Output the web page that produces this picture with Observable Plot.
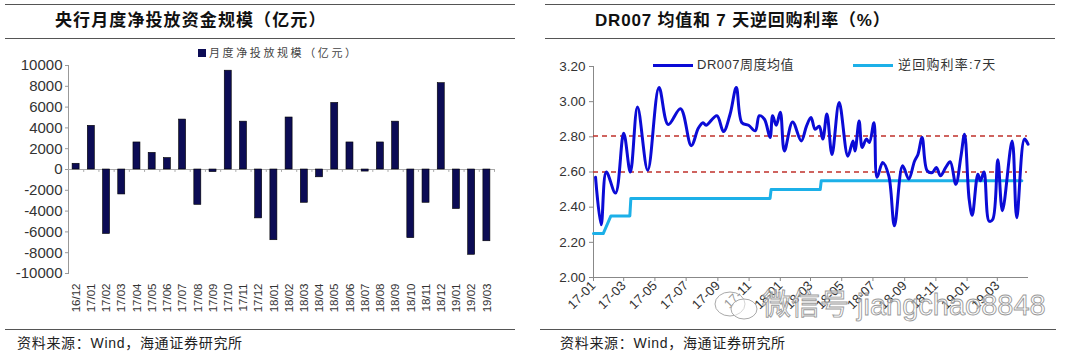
<!DOCTYPE html>
<html><head><meta charset="utf-8">
<script src="https://cdn.jsdelivr.net/npm/d3@7"></script>
<script src="https://cdn.jsdelivr.net/npm/@observablehq/plot@0.6"></script>
<style>
body{margin:0;background:#fff;font-family:"Liberation Sans",Arial,"Noto Sans CJK SC",sans-serif;}
#wrap{position:relative;width:1080px;height:358px;overflow:hidden;background:#fff;}
.hline{position:absolute;height:0;border-top:1.3px solid #555;}
.title{position:absolute;font-family:"Liberation Sans","Noto Sans CJK SC",sans-serif;font-weight:bold;font-size:17px;color:#111;line-height:20px;white-space:nowrap;}
.src{position:absolute;font-family:"Liberation Sans","Noto Sans CJK SC",sans-serif;font-size:14px;color:#222;line-height:16px;white-space:nowrap;letter-spacing:0.7px;}
.chart{position:absolute;top:50px;}
.leg{position:absolute;font-family:"Liberation Sans","Noto Sans CJK SC",sans-serif;white-space:nowrap;color:#444;}
.wm{position:absolute;left:762px;top:288px;font-family:"Liberation Sans","Noto Sans CJK SC",sans-serif;font-size:29px;color:rgba(255,255,255,0.55);-webkit-text-stroke:0.9px #9a9a9a;white-space:nowrap;line-height:34px;}
</style></head>
<body><div id="wrap">
<div class="hline" style="left:5px;width:510px;top:4px"></div>
<div class="hline" style="left:5px;width:510px;top:38px"></div>
<div class="hline" style="left:545px;width:510px;top:4px"></div>
<div class="hline" style="left:545px;width:510px;top:38px"></div>
<div class="title" style="left:55px;top:11px;letter-spacing:1.1px">央行月度净投放资金规模（亿元）</div>
<div class="title" style="left:595px;top:11px;letter-spacing:0.8px">DR007 均值和 7 天逆回购利率（%）</div>
<div id="left" class="chart" style="left:0px;width:540px"></div>
<div id="right" class="chart" style="left:540px;width:540px"></div>
<div class="leg" style="left:198px;top:47px;font-size:11px;letter-spacing:2.6px;line-height:12px"><span style="display:inline-block;width:8px;height:8px;background:#0c0c55;margin-right:3px;vertical-align:0px"></span>月度净投放规模（亿元）</div>
<div style="position:absolute;left:653px;top:64px;width:40px;height:3px;background:#0b0bd6"></div>
<div class="leg" style="left:697px;top:57px;font-size:13px;line-height:16px;color:#333;letter-spacing:0.5px">DR007周度均值</div>
<div style="position:absolute;left:853px;top:64px;width:40px;height:3px;background:#1cb0e8"></div>
<div class="leg" style="left:898px;top:57px;font-size:13px;line-height:16px;color:#333;letter-spacing:1.2px">逆回购利率:7天</div>
<div class="hline" style="left:5px;width:510px;top:329px"></div>
<div class="hline" style="left:540px;width:516px;top:329px"></div>
<div class="src" style="left:17px;top:335px">资料来源：Wind，海通证券研究所</div>
<div class="src" style="left:560px;top:335px">资料来源：Wind，海通证券研究所</div>
<svg style="position:absolute;left:712px;top:290px" width="50" height="32"><ellipse cx="18" cy="14" rx="15" ry="12" fill="rgba(255,255,255,0.5)" stroke="#aaa" stroke-width="1"/><ellipse cx="32" cy="19" rx="13" ry="10" fill="rgba(255,255,255,0.5)" stroke="#aaa" stroke-width="1"/></svg>
<div class="wm">微信号 jiangchao8848</div>
</div>
<script>
// ---- Left chart data ----
const months = ["16/12","17/01","17/02","17/03","17/04","17/05","17/06","17/07","17/08","17/09","17/10","17/11","17/12","18/01","18/02","18/03","18/04","18/05","18/06","18/07","18/08","18/09","18/10","18/11","18/12","19/01","19/02","19/03"];
const netInjection = [550,4200,-6200,-2400,2600,1600,1100,4800,-3400,-250,9500,4600,-4700,-6800,5000,-3200,-750,6400,2600,-200,2600,4600,-6600,-3200,8300,-3800,-8200,-6900];
const leftYTicks = [-10000,-8000,-6000,-4000,-2000,0,2000,4000,6000,8000,10000];

// ---- Right chart data ----
const drDates = ["2017-01-05","2017-01-16","2017-01-26","2017-02-13","2017-03-01","2017-03-14","2017-03-28","2017-04-17","2017-05-09","2017-05-27","2017-06-20","2017-07-11","2017-07-25","2017-08-03","2017-08-09","2017-08-30","2017-09-12","2017-09-25","2017-10-07","2017-10-18","2017-10-31","2017-11-13","2017-11-21","2017-12-01","2017-12-12","2017-12-17","2017-12-24","2018-01-01","2018-01-09","2018-01-25","2018-02-11","2018-02-21","2018-03-02","2018-03-10","2018-03-18","2018-03-25","2018-04-02","2018-04-12","2018-04-26","2018-05-13","2018-05-23","2018-05-27","2018-06-04","2018-06-10","2018-06-18","2018-06-24","2018-07-03","2018-07-09","2018-07-20","2018-08-01","2018-08-12","2018-08-28","2018-09-09","2018-09-20","2018-09-27","2018-10-05","2018-10-15","2018-10-25","2018-11-02","2018-11-10","2018-11-20","2018-11-29","2018-12-10","2018-12-20","2018-12-27","2019-01-05","2019-01-11","2019-01-22","2019-01-27","2019-02-03","2019-02-13","2019-02-20","2019-03-02","2019-03-11","2019-03-30","2019-04-08","2019-04-23","2019-04-30"];
const drValues = [2.57,2.30,2.60,2.48,2.82,2.60,2.97,2.61,3.08,2.87,2.96,2.75,2.85,2.88,2.866,2.92,2.83,2.93,3.08,2.88,2.866,2.834,2.92,2.90,2.796,2.92,2.866,2.94,2.72,2.885,2.777,2.86,2.91,2.843,2.86,2.787,2.93,2.70,2.995,2.69,2.777,2.72,2.89,2.74,2.787,2.768,2.88,2.57,2.654,2.578,2.294,2.635,2.56,2.66,2.70,2.796,2.607,2.597,2.625,2.578,2.625,2.658,2.53,2.69,2.815,2.445,2.354,2.587,2.55,2.60,2.32,2.33,2.67,2.38,2.777,2.34,2.787,2.758];
const repoDates = ["2017-01-01","2017-01-20","2017-02-04","2017-03-13","2017-03-15","2017-12-12","2017-12-14","2018-03-20","2018-03-22","2019-04-18"];
const repoValues = [2.25,2.25,2.35,2.35,2.45,2.45,2.50,2.50,2.55,2.55];
const refLines = [2.805, 2.60];
const rightYTicks = [2.0,2.2,2.4,2.6,2.8,3.0,3.2];
const rightXTicks = ["2017-01-01","2017-03-01","2017-05-01","2017-07-01","2017-09-01","2017-11-01","2018-01-01","2018-03-01","2018-05-01","2018-07-01","2018-09-01","2018-11-01","2019-01-01","2019-03-01"];
const rightXDomain = ["2017-01-01","2019-04-29"];

const barData = months.map((m,i)=>({m, v: netInjection[i]}));
const dr = drDates.map((d,i)=>({d:new Date(d), v:drValues[i]}));
const repo = repoDates.map((d,i)=>({d:new Date(d), v:repoValues[i]}));

const lw = 540, lml = 68, lmr = 46;
const step = (lw - lml - lmr) / months.length;

const left = Plot.plot({
  width: lw, height: 275, marginTop: 15, marginBottom: 52, marginLeft: lml, marginRight: lmr,
  style: {fontFamily: "Liberation Sans, Arial, sans-serif", color: "#333", background: "transparent", overflow: "visible"},
  x: {domain: months, paddingInner: 0.54, paddingOuter: 0.27, round: false, label: null, axis: null},
  y: {domain: [-10000, 10000], label: null, axis: null},
  marks: [
    Plot.frame({anchor: "left", stroke: "#999"}),
    Plot.axisY({ticks: leftYTicks, tickSize: 3, tickPadding: 3, fontSize: 15, label: null, tickFormat: d => String(d), stroke: "#999"}),
    Plot.ruleY([0], {stroke: "#aaa", strokeWidth: 1.2}),
    Plot.ruleX(months, {x: d => d, y1: 0, y2: -280, dx: step/2, stroke: "#aaa"}),
    Plot.barY(barData, {x: "m", y: "v", fill: "#0c0c55", stroke: "#000", strokeWidth: 0.6}),
    Plot.axisX({tickRotate: -90, tickSize: 0, tickPadding: 10, fontSize: 11.5, label: null})
  ]
});
document.getElementById("left").appendChild(left);

const right = Plot.plot({
  width: 540, height: 275, marginTop: 16, marginBottom: 48, marginLeft: 53, marginRight: 53,
  style: {fontFamily: "Liberation Sans, Arial, sans-serif", color: "#333", background: "transparent", overflow: "visible"},
  x: {type: "utc", domain: rightXDomain.map(d => new Date(d)), label: null, axis: null},
  y: {domain: [2, 3.2], label: null, axis: null},
  marks: [
    Plot.frame({anchor: "left", stroke: "#888"}),
    Plot.frame({anchor: "bottom", stroke: "#888"}),
    Plot.axisY({ticks: rightYTicks, tickFormat: d3.format(".2f"), tickSize: 4, tickPadding: 4, fontSize: 13.5, label: null, stroke: "#888"}),
    Plot.axisX({ticks: rightXTicks.map(d => new Date(d)), tickFormat: d3.utcFormat("%y-%m"), tickRotate: -45, tickSize: 4, tickPadding: 2, fontSize: 13, label: null, stroke: "#888"}),
    Plot.ruleY(refLines, {stroke: "#c0302a", strokeDasharray: "5,4", strokeWidth: 1.5}),
    Plot.line(repo, {x: "d", y: "v", stroke: "#1cb0e8", strokeWidth: 3}),
    Plot.line(dr, {x: "d", y: "v", stroke: "#0b0bd6", strokeWidth: 3, curve: "catmull-rom"})
  ]
});
document.getElementById("right").appendChild(right);
</script>
</body></html>
